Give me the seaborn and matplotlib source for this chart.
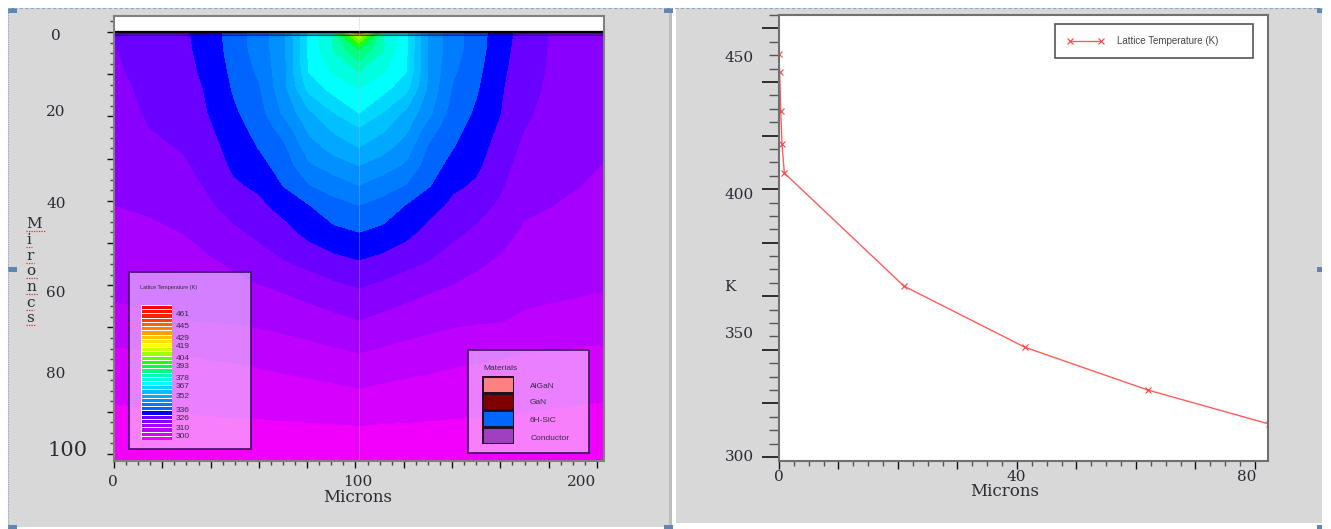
import numpy as np
import matplotlib
matplotlib.use("Agg")
import matplotlib.pyplot as plt
import seaborn as sns
from matplotlib.colors import ListedColormap
from matplotlib.patches import Rectangle
from matplotlib.ticker import MultipleLocator

# left panel: mesh nodes in microns, field in legend band units (1 band = 5.2 K above 300 K)
mesh_x = [0, 14.4, 28.9, 39.3, 49.6, 60, 70.4, 80.7, 91, 101.4,
          111.1, 120.9, 130.6, 140.3, 150.1, 159.8, 169.7, 180.1, 202.9]
mesh_depth = [0, 0.9, 4.3, 9.5, 13.3, 19.2, 22.5, 27.3, 31.6, 36.3,
              41, 47.4, 54, 60.7, 68.3, 76, 84.4, 93.3, 101.7]
band_field = [
    [5.05, 5.45, 5.83, 6.44, 7.46, 8.46, 9.73, 13.25, 15.2, 29, 15.2, 13.25, 9.73, 8.46, 7.46, 6.44, 5.6, 4.97, 4.6],
    [5.03, 5.4, 5.83, 6.44, 7.46, 8.46, 9.73, 13.25, 15.1, 21, 15.1, 13.25, 9.73, 8.46, 7.46, 6.44, 5.6, 4.97, 4.6],
    [4.95, 5.38, 5.8, 6.35, 7.44, 8.42, 9.73, 13.2, 15.05, 17, 15.05, 13.2, 9.73, 8.42, 7.44, 6.35, 5.55, 4.95, 4.55],
    [4.85, 5.3, 5.72, 6.22, 7.25, 8.15, 9.73, 13.0, 14.1, 15, 14.1, 13.0, 9.73, 8.15, 7.25, 6.22, 5.45, 4.9, 4.45],
    [4.75, 5.2, 5.6, 6.12, 7.1, 7.9, 9.7, 12.33, 13.4, 14, 13.4, 12.33, 9.7, 7.9, 7.1, 6.12, 5.35, 4.85, 4.4],
    [4.6, 5.1, 5.4, 6.02, 6.84, 7.54, 9.2, 10.77, 11.97, 13, 11.97, 10.77, 9.2, 7.54, 6.84, 6.02, 5.15, 4.75, 4.25],
    [4.5, 5.0, 5.25, 5.85, 6.65, 7.33, 8.5, 10.27, 11.25, 12, 11.25, 10.27, 8.5, 7.33, 6.65, 5.85, 5.03, 4.65, 4.2],
    [4.35, 4.75, 5.08, 5.6, 6.4, 7.04, 7.8, 9.53, 10.39, 11, 10.39, 9.53, 7.8, 7.04, 6.4, 5.6, 4.8, 4.5, 4.08],
    [4.22, 4.55, 4.87, 5.4, 6.17, 6.65, 7.45, 8.83, 9.5, 10, 9.5, 8.83, 7.45, 6.65, 6.17, 5.4, 4.55, 4.38, 3.97],
    [4.1, 4.35, 4.6, 5.13, 5.85, 6.19, 7.05, 7.95, 8.46, 9, 8.46, 7.95, 7.05, 6.19, 5.85, 5.13, 4.4, 4.22, 3.85],
    [4.0, 4.13, 4.36, 4.85, 5.4, 5.76, 6.4, 6.97, 7.65, 8, 7.65, 6.97, 6.4, 5.76, 5.4, 4.85, 4.2, 4.03, 3.7],
    [3.72, 3.82, 4.02, 4.4, 4.81, 5.22, 5.63, 6.3, 6.75, 7, 6.75, 6.3, 5.63, 5.22, 4.81, 4.4, 3.85, 3.75, 3.5],
    [3.48, 3.55, 3.66, 3.9, 4.2, 4.58, 5.0, 5.35, 5.74, 6, 5.74, 5.35, 5.0, 4.58, 4.2, 3.9, 3.6, 3.5, 3.3],
    [3.2, 3.3, 3.38, 3.5, 3.68, 3.9, 4.12, 4.4, 4.7, 5, 4.7, 4.4, 4.12, 3.9, 3.68, 3.5, 3.3, 3.22, 3.05],
    [2.7, 2.85, 2.97, 3.05, 3.1, 3.2, 3.35, 3.52, 3.75, 4, 3.75, 3.52, 3.35, 3.2, 3.1, 3.05, 2.85, 2.75, 2.55],
    [1.85, 1.93, 2.03, 2.13, 2.2, 2.32, 2.5, 2.66, 2.83, 3, 2.83, 2.66, 2.5, 2.32, 2.2, 2.13, 2.0, 1.95, 1.8],
    [1.27, 1.36, 1.42, 1.46, 1.5, 1.57, 1.65, 1.74, 1.86, 2, 1.86, 1.74, 1.65, 1.57, 1.5, 1.46, 1.4, 1.36, 1.25],
    [0.6, 0.7, 0.78, 0.83, 0.85, 0.87, 0.9, 0.93, 0.95, 1, 0.95, 0.93, 0.9, 0.87, 0.85, 0.83, 0.78, 0.7, 0.55],
    [0.05, 0.08, 0.1, 0.1, 0.1, 0.1, 0.1, 0.1, 0.1, 0.1, 0.1, 0.1, 0.1, 0.1, 0.1, 0.1, 0.1, 0.08, 0.05],
]
band_colors = ["#f000fa", "#d600ff", "#be00ff", "#a800ff", "#8a00ff", "#6a00ff", "#0000ff", "#0064ff",
               "#007cff", "#0090ff", "#00a8ff", "#00c0ff", "#00d8ff", "#00ffff", "#00ffe0", "#00ffb0",
               "#00ff80", "#00ff40", "#20ff00", "#60ff00", "#a0ff00", "#d0ff00", "#ffff00", "#ffe000",
               "#ffc000", "#ffa000", "#ff8000", "#ff6000", "#ff4000", "#ff2000", "#ff1000", "#ff0000"]
temp_labels = ["461", "445", "429", "419", "404", "393", "378", "367", "352", "336", "326", "310", "300"]
materials = ["AlGaN", "GaN", "6H-SiC", "Conductor"]
material_colors = ["#ff8080", "#800000", "#0066ff", "#a040c0"]

# right panel: lattice temperature along the centre line
depth_um = [0, 0.1, 0.3, 0.5, 0.9, 21, 41.3, 62, 82.4]
lattice_k = [450.4, 443.8, 429, 416.8, 406, 363.8, 341, 325, 312.3]

W, H = 1331, 529
GREY = "#d8d8d8"
TXT = "#2b2b33"
SERIF = "DejaVu Serif"
SANS = "Liberation Sans"


def box(x0, y0, x1, y1):
    # pixel box (from top left of the picture) to figure fractions
    return [x0 / W, 1 - y1 / H, (x1 - x0) / W, (y1 - y0) / H]


def ftext(x, y, s, **kw):
    fig.text(x / W, 1 - y / H, s, va="center", **kw)


sns.set_style("ticks")
plt.rcParams["font.family"] = ["DejaVu Sans"]
fig = plt.figure(figsize=(W / 100, H / 100), dpi=100, facecolor="white")

# page furniture behind the two screenshots
bg = fig.add_axes([0, 0, 1, 1])
bg.set_xlim(0, W)
bg.set_ylim(H, 0)
bg.axis("off")
bg.add_patch(Rectangle((8, 8), 664, 519, fc=GREY, ec="none"))
bg.add_patch(Rectangle((669, 8), 3, 519, fc="#bcbcbc", ec="none"))
bg.add_patch(Rectangle((676, 8), 646, 515, fc=GREY, ec="none"))
bg.plot([8, 1322], [8, 8], color="#8fa6c4", lw=0.8, ls=(0, (3, 2)))
bg.plot([8, 8], [8, 527], color="#8fa6c4", lw=0.8, ls=(0, (1, 1)))
for hx, hy, hw in [(8, 8, 9), (8, 267, 9), (8, 525, 9), (664, 8, 9), (664, 525, 9),
                   (1317, 8, 5), (1317, 267, 5), (1317, 525, 5)]:
    bg.add_patch(Rectangle((hx, hy), hw, 5, fc="#5f86b0", ec="none"))

# left panel
ax = fig.add_axes(box(114, 16, 604, 461), facecolor="white")
ax.contourf(mesh_x, mesh_depth, np.array(band_field), levels=np.arange(33), colors=band_colors)
ax.axhspan(0, 0.8, color="#200040", alpha=0.35, lw=0)
ax.axhline(0, color="black", lw=1.6)
ax.axhline(0.8, color="#200040", lw=0.8, alpha=0.7)
ax.axvline(101.4, color="#b8b8c8", lw=0.7, alpha=0.35)
ax.set_xlim(0, 202.9)
ax.set_ylim(101.66, -3.8)
ax.xaxis.set_major_locator(MultipleLocator(20))
ax.xaxis.set_minor_locator(MultipleLocator(5))
ax.yaxis.set_major_locator(MultipleLocator(10))
ax.yaxis.set_minor_locator(MultipleLocator(2.5))
ax.tick_params(which="major", length=5, width=1.0, color="#111111", labelleft=False, labelbottom=False)
ax.tick_params(which="minor", length=3.2, width=1.0, color="#444444")
for s in ax.spines.values():
    s.set_color("#808080")
    s.set_linewidth(1.5)

for lab, px_y in [("0", 36), ("20", 112), ("40", 204), ("60", 293), ("80", 374)]:
    ftext(56, px_y, lab, family=SERIF, fontsize=11, color=TXT, ha="center")
ftext(68, 450, "100", family=SERIF, fontsize=15, color=TXT, ha="center")
for lab, px_x in [("0", 113), ("100", 358), ("200", 582)]:
    ftext(px_x, 482, lab, family=SERIF, fontsize=11, color=TXT, ha="center")
ftext(358, 498, "Microns", family=SERIF, fontsize=12, color=TXT, ha="center")

# vertical axis title, one letter per line with the spell-check squiggle of the screenshot
for ch, px_y, px_w in [("M", 224, 20), ("i", 240, 6), ("r", 256, 8), ("o", 271, 12),
                       ("n", 287, 12), ("c", 303, 8), ("s", 318, 10)]:
    ftext(26, px_y, ch, family=SERIF, fontsize=11, color=TXT, ha="left")
    bg.plot([26, 26 + px_w], [px_y + 6.5, px_y + 6.5], color="#e03030", lw=0.9, ls=(0, (1, 1)))

# temperature key
ax.add_patch(Rectangle(box(129, 272, 251, 449)[:2], 122 / W, 177 / H, transform=fig.transFigure,
                       fc="white", alpha=0.5, ec="none", zorder=5))
ax.add_patch(Rectangle(box(129, 272, 251, 449)[:2], 122 / W, 177 / H, transform=fig.transFigure,
                       fc="none", ec="#4a1570", lw=1.3, zorder=6))
ftext(140, 288, "Lattice Temperature (K)", family=SANS, fontsize=4, color="#303030", zorder=7)
key = fig.add_axes(box(141, 305, 172, 440))
sns.heatmap(np.arange(32)[::-1].reshape(-1, 1), cmap=ListedColormap(band_colors), cbar=False,
            linewidths=0.6, linecolor="white", xticklabels=False, yticklabels=False, ax=key)
for lab, px_y in zip(temp_labels, [315, 327, 339, 347, 358, 367, 378, 386, 397, 410, 418, 429, 437]):
    ftext(176, px_y, lab, family=SANS, fontsize=6, color="#3a2a44")

# materials key
ax.add_patch(Rectangle(box(468, 350, 589, 453)[:2], 121 / W, 103 / H, transform=fig.transFigure,
                       fc="white", alpha=0.5, ec="none", zorder=5))
ax.add_patch(Rectangle(box(468, 350, 589, 453)[:2], 121 / W, 103 / H, transform=fig.transFigure,
                       fc="none", ec="#4a1570", lw=1.3, zorder=6))
ftext(483, 369, "Materials", family=SANS, fontsize=6, color="#3a2a44")
swatch = fig.add_axes(box(482, 376, 514, 444))
sns.heatmap(np.arange(4).reshape(-1, 1), cmap=ListedColormap(material_colors), cbar=False,
            linewidths=1, linecolor="#201020", xticklabels=False, yticklabels=False, ax=swatch)
for lab, px_x, px_y in zip(materials, [530, 530, 530, 531], [386, 403, 421, 438]):
    ftext(px_x, px_y, lab, family=SANS, fontsize=6, color="#3a2a44")

# right panel
ax2 = fig.add_axes(box(779, 15, 1268, 461), facecolor="white")
sns.lineplot(x=depth_um, y=lattice_k, sort=False, estimator=None, color="#ff5c5c", lw=1.0,
             marker="x", markersize=5, markeredgecolor="#ff4040", markeredgewidth=0.8,
             label="Lattice Temperature (K)", ax=ax2)
ax2.set_xlim(0, 82.2)
ax2.set_ylim(298.5, 465)
ax2.set_xlabel("")
ax2.set_ylabel("")
ax2.xaxis.set_major_locator(MultipleLocator(10))
ax2.xaxis.set_minor_locator(MultipleLocator(2.5))
ax2.yaxis.set_major_locator(MultipleLocator(20))
ax2.yaxis.set_minor_locator(MultipleLocator(5))
ax2.tick_params(axis="x", which="major", length=6, width=1.0, color="#111111", labelbottom=False)
ax2.tick_params(axis="x", which="minor", length=3.6, width=1.0, color="#555555")
ax2.tick_params(axis="y", which="major", length=12, width=1.2, color="#111111", labelleft=False)
ax2.tick_params(axis="y", which="minor", length=7, width=1.0, color="#555555")
for s in ax2.spines.values():
    s.set_color("#707070")
    s.set_linewidth(1.5)

leg = ax2.legend(loc="upper left", bbox_to_anchor=(276 / 489, 1 - 43 / 446, 198 / 489, 34 / 446),
                 mode="expand", prop={"family": SANS, "size": 7}, borderpad=1.25, borderaxespad=0,
                 handlelength=3.8, handletextpad=1.35, numpoints=2, frameon=True, fancybox=False,
                 edgecolor="#555555", framealpha=1)
leg.get_frame().set_linewidth(1.2)
for t in leg.get_texts():
    t.set_color("#444444")

for lab, px_y in [("450", 58), ("400", 195), ("350", 334), ("300", 457)]:
    ftext(739, px_y, lab, family=SERIF, fontsize=11, color=TXT, ha="center")
ftext(730, 287, "K", family=SERIF, fontsize=11, color=TXT, ha="center")
for lab, px_x in [("0", 779), ("40", 1016), ("80", 1247)]:
    ftext(px_x, 477, lab, family=SERIF, fontsize=11, color=TXT, ha="center")
ftext(1005, 492, "Microns", family=SERIF, fontsize=12, color=TXT, ha="center")

fig.savefig("out.png", dpi=100, facecolor="white")
